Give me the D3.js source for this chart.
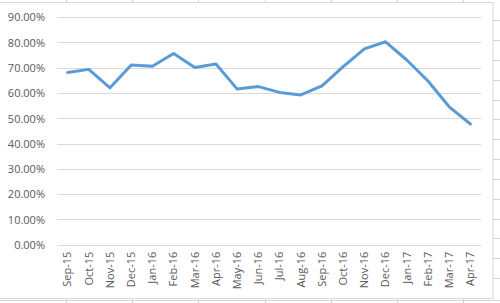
<!DOCTYPE html>
<html>
<head>
<meta charset="utf-8">
<script src="https://cdn.jsdelivr.net/npm/d3@7"></script>
<style>
  body { margin: 0; background: #fff; }
  svg { display: block; font-family: 'Open Sans', sans-serif; }
</style>
</head>
<body>
<div id="chart"></div>
<script>
var months = ['Sep-15','Oct-15','Nov-15','Dec-15','Jan-16','Feb-16','Mar-16','Apr-16','May-16','Jun-16',
              'Jul-16','Aug-16','Sep-16','Oct-16','Nov-16','Dec-16','Jan-17','Feb-17','Mar-17','Apr-17'];
var values = [68.1, 69.3, 62.0, 71.0, 70.5, 75.6, 70.0, 71.4, 61.5, 62.5,
              60.2, 59.2, 62.8, 70.4, 77.4, 80.2, 73.0, 64.7, 54.5, 47.7];
var yTicks = [0, 10, 20, 30, 40, 50, 60, 70, 80, 90];

var width = 500, height = 303;
var svg = d3.select('#chart').append('svg')
    .attr('width', width)
    .attr('height', height);

// spreadsheet cell borders behind the chart object
var cells = svg.append('g').attr('stroke', '#d4d4d4').attr('stroke-width', 1);
[66, 132, 198, 265, 331, 397, 463].forEach(function(x) {
    cells.append('line').attr('x1', x + .5).attr('x2', x + .5).attr('y1', 0).attr('y2', 303);
});
[20, 40, 60, 80, 100, 119, 139, 159, 179, 199, 219, 238, 258, 278, 300].forEach(function(y) {
    cells.append('line').attr('x1', 0).attr('x2', 500).attr('y1', y + .5).attr('y2', y + .5);
});

// chart object
svg.append('rect')
    .attr('x', -1).attr('y', 2.5)
    .attr('width', 494).attr('height', 296)
    .attr('fill', '#fff')
    .attr('stroke', '#d9d9d9');

var plotLeft = 57, plotRight = 481, plotTop = 17, plotBottom = 244.7;

var x = d3.scaleBand().domain(months).range([plotLeft, plotRight]);
var y = d3.scaleLinear().domain([0, 90]).range([plotBottom, plotTop]);

var grid = svg.append('g');
grid.selectAll('line').data(yTicks).enter().append('line')
    .attr('x1', plotLeft).attr('x2', plotRight)
    .attr('y1', function(d) { return Math.round(y(d)) + .5; })
    .attr('y2', function(d) { return Math.round(y(d)) + .5; })
    .attr('stroke', '#d9d9d9');

var yAxis = svg.append('g').attr('transform', 'translate(' + (plotLeft - 12) + ',0)')
    .call(d3.axisLeft(y).tickValues(yTicks).tickSize(0).tickFormat(function(d) { return d.toFixed(2) + '%'; }));
yAxis.select('.domain').remove();
yAxis.selectAll('text')
    .attr('fill', '#595959')
    .style('font-size', '11px')
    .style('font-family', "'Open Sans', sans-serif")
    .attr('x', 0).attr('dy', '0.35em');

var xAxis = svg.append('g').attr('transform', 'translate(0,' + plotBottom + ')')
    .call(d3.axisBottom(x).tickSize(0));
xAxis.select('.domain').remove();
xAxis.selectAll('text')
    .attr('fill', '#595959')
    .style('font-size', '11px')
    .style('font-family', "'Open Sans', sans-serif")
    .attr('text-anchor', 'end')
    .attr('transform', 'rotate(-90)')
    .attr('x', -7)
    .attr('y', 0)
    .attr('dy', '0.35em');

var line = d3.line()
    .x(function(d, i) { return x(months[i]) + x.bandwidth() / 2; })
    .y(function(d) { return y(d); });

svg.append('path')
    .datum(values)
    .attr('d', line)
    .attr('fill', 'none')
    .attr('stroke', '#5b9bd5')
    .attr('stroke-width', 3)
    .attr('stroke-linejoin', 'round')
    .attr('stroke-linecap', 'round');
</script>
</body>
</html>
